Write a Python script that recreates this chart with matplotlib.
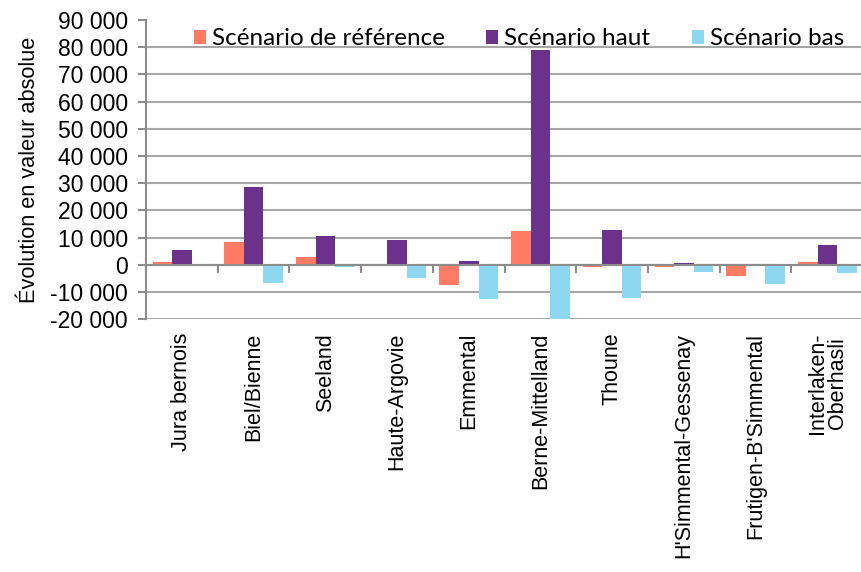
import numpy as np
import matplotlib
matplotlib.use("Agg")
import matplotlib.pyplot as plt
from matplotlib.ticker import FuncFormatter
import matplotlib.transforms as mtransforms

regions = ["Jura bernois", "Biel/Bienne", "Seeland", "Haute-Argovie", "Emmental",
           "Berne-Mittelland", "Thoune", "H'Simmental-Gessenay", "Frutigen-B'Simmental",
           "Interlaken-\nOberhasli"]
series_names = ["Scénario de référence", "Scénario haut", "Scénario bas"]
ref = [1000, 8500, 3000, 0, -7500, 12500, -800, -700, -4000, 1000]
haut = [5500, 28500, 10500, 9200, 1500, 79000, 13000, 600, 0, 7300]
bas = [0, -6500, -900, -4700, -12700, -20500, -12300, -2500, -7000, -3000]
colors = ["#FF7B63", "#6B318B", "#8DD8F0"]
yticks = list(range(-20000, 90001, 10000))

plt.rcParams["font.family"] = ["Liberation Sans", "DejaVu Sans"]

fig = plt.figure(figsize=(8.62, 5.72), dpi=100)
ax = fig.add_axes([0.1694, 0.4418, 0.832, 0.5232])

x = np.arange(len(regions))
w = 0.272
for i, (vals, col, name) in enumerate(zip([ref, haut, bas], colors, series_names)):
    ax.bar(x + (i - 1) * w, vals, width=w, color=col, label=name, zorder=3)

ax.set_xlim(-0.5, len(regions) - 0.5)
ax.set_ylim(-20000, 90000)
ax.set_yticks(yticks)
ax.yaxis.set_major_formatter(FuncFormatter(lambda v, p: f"{int(v):,}".replace(",", " ")))
ax.tick_params(axis="y", labelsize=16.5, length=6, width=1.5, color="#8c8c8c", pad=7)
ax.set_ylabel("Évolution en valeur absolue", fontsize=15.7, labelpad=7)

ax.yaxis.grid(True, color="#a6a6a6", lw=1.5, zorder=0)
ax.get_ygridlines()[-1].set_visible(False)

for s in ["top", "right"]:
    ax.spines[s].set_visible(False)
ax.spines["left"].set_color("#8c8c8c")
ax.spines["left"].set_linewidth(1.5)
ax.spines["bottom"].set_position(("data", 0))
ax.spines["bottom"].set_color("#8c8c8c")
ax.spines["bottom"].set_linewidth(1.5)
ax.spines["bottom"].set_zorder(4)

ax.set_xticks(x)
ax.set_xticklabels([])
ax.tick_params(axis="x", which="major", length=0)
ax.set_xticks(np.arange(len(regions) + 1) - 0.5, minor=True)
ax.tick_params(axis="x", which="minor", length=6, width=1.5, color="#8c8c8c", direction="out")

trans = mtransforms.blended_transform_factory(ax.transData, ax.transAxes)
for xi, lab in zip(x, regions):
    ax.text(xi, -0.045, lab, transform=trans, rotation=90, ha="center", va="top",
            fontsize=15.5, multialignment="center", linespacing=0.95)

ax.legend(loc="upper center", bbox_to_anchor=(0.52, 1.045), ncol=3, frameon=False,
          prop={"family": "Lato", "size": 17.5}, handlelength=0.5, handleheight=0.5,
          handletextpad=0.25, columnspacing=1.7)

fig.savefig("out.png", dpi=100)
